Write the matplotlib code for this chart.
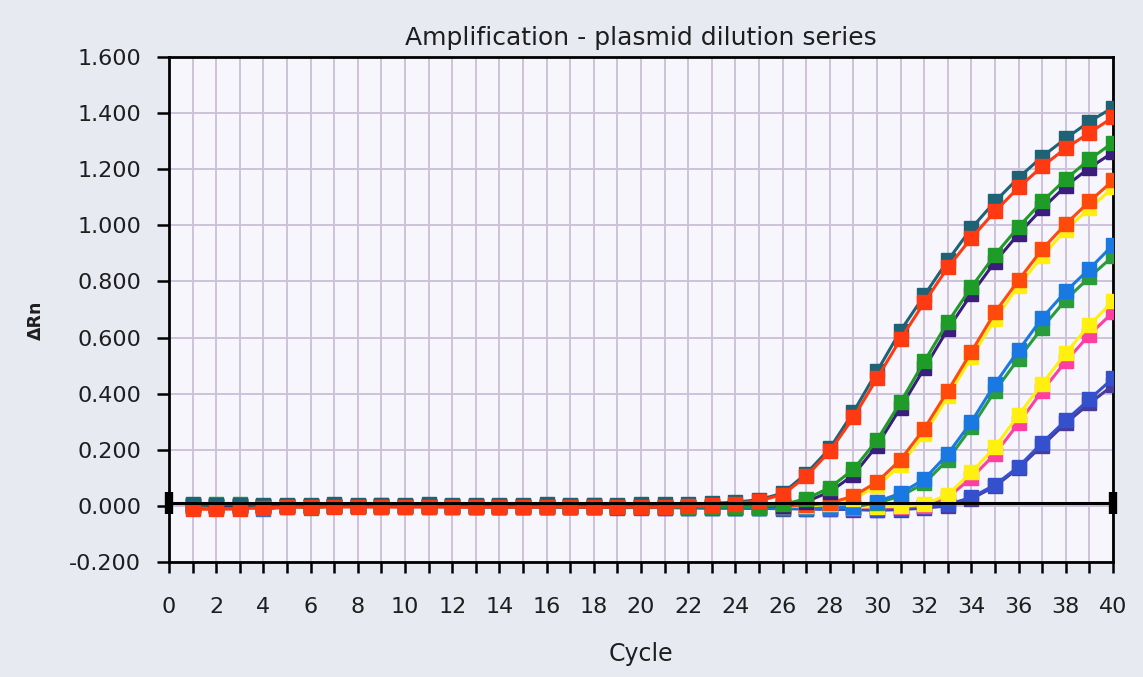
import matplotlib
matplotlib.use('Agg')
import matplotlib.pyplot as plt
from matplotlib.ticker import MultipleLocator, FormatStrFormatter

# cycles and delta Rn readings
cycles = list(range(1, 41))

teal = [0.005, 0.004, 0.003, 0.002, 0.004, 0.003, 0.005, 0.004, 0.003, 0.004,
        0.005, 0.003, 0.004, 0.004, 0.003, 0.005, 0.004, 0.003, 0.004, 0.005,
        0.006, 0.007, 0.009, 0.013, 0.022, 0.045, 0.115, 0.205, 0.335, 0.480,
        0.625, 0.750, 0.875, 0.990, 1.085, 1.170, 1.245, 1.310, 1.370, 1.420]
red = [-0.012, -0.012, -0.011, -0.006, -0.005, -0.004, -0.004, -0.004, -0.004, -0.004,
       -0.004, -0.004, -0.005, -0.004, -0.005, -0.004, -0.004, -0.005, -0.004, -0.004,
       -0.004, -0.002, 0.002, 0.008, 0.018, 0.040, 0.105, 0.195, 0.315, 0.455,
       0.595, 0.725, 0.850, 0.955, 1.050, 1.135, 1.210, 1.275, 1.330, 1.385]
green = [0.002, 0.005, 0.006, 0.001, 0.000, -0.008, 0.000, 0.001, 0.002, 0.001,
         0.000, 0.001, 0.000, -0.001, 0.000, -0.002, -0.003, -0.002, -0.004, -0.003,
         -0.004, -0.003, -0.004, -0.004, -0.003, 0.005, 0.025, 0.065, 0.130, 0.235,
         0.370, 0.515, 0.655, 0.780, 0.895, 0.995, 1.085, 1.165, 1.235, 1.295]
purple = [0.004, 0.001, 0.000, -0.002, -0.001, -0.002, -0.001, 0.000, 0.000, 0.001,
          0.000, -0.001, -0.001, -0.002, -0.001, -0.002, -0.002, -0.002, -0.003, -0.002,
          -0.003, -0.003, -0.003, -0.003, -0.002, 0.000, 0.015, 0.050, 0.110, 0.215,
          0.350, 0.490, 0.630, 0.755, 0.870, 0.970, 1.060, 1.140, 1.205, 1.260]
orange = [-0.008, -0.007, -0.006, -0.003, -0.002, -0.002, -0.001, -0.001, -0.001, -0.001,
          -0.001, -0.002, -0.002, -0.002, -0.002, -0.002, -0.002, -0.003, -0.003, -0.003,
          -0.003, -0.003, -0.002, -0.002, -0.002, -0.001, 0.002, 0.010, 0.035, 0.085,
          0.165, 0.275, 0.410, 0.550, 0.690, 0.805, 0.915, 1.005, 1.085, 1.160]
yellow = [0.001, 0.001, 0.000, 0.000, 0.000, 0.000, 0.000, 0.001, 0.000, 0.000,
          0.000, 0.000, 0.000, 0.000, 0.000, 0.001, 0.002, 0.002, 0.001, 0.001,
          0.001, 0.000, 0.000, -0.001, -0.002, -0.002, -0.001, 0.005, 0.025, 0.070,
          0.145, 0.255, 0.390, 0.530, 0.665, 0.785, 0.890, 0.985, 1.060, 1.135]
blue = [0.003, 0.001, 0.000, -0.012, -0.004, -0.003, -0.002, -0.002, -0.001, -0.001,
        -0.002, -0.002, -0.003, -0.003, -0.003, -0.003, -0.004, -0.004, -0.005, -0.005,
        -0.005, -0.006, -0.006, -0.006, -0.007, -0.008, -0.008, -0.007, -0.005, 0.015,
        0.045, 0.095, 0.185, 0.300, 0.435, 0.555, 0.670, 0.765, 0.845, 0.930]
green2 = [0.000, 0.000, 0.001, 0.000, -0.001, -0.002, -0.001, -0.001, -0.001, -0.002,
          -0.002, -0.002, -0.002, -0.003, -0.003, -0.003, -0.004, -0.004, -0.004, -0.004,
          -0.005, -0.005, -0.005, -0.006, -0.006, -0.006, -0.006, -0.005, -0.003, 0.010,
          0.035, 0.080, 0.165, 0.280, 0.410, 0.525, 0.635, 0.735, 0.815, 0.890]
yellow2 = [0.000, 0.001, 0.001, 0.000, 0.000, 0.000, 0.001, 0.001, 0.000, 0.000,
           0.000, 0.000, 0.001, 0.001, 0.000, 0.000, 0.001, 0.001, 0.001, 0.002,
           0.002, 0.001, 0.000, -0.001, -0.002, -0.003, -0.004, -0.004, -0.004, -0.003,
           -0.002, 0.005, 0.040, 0.120, 0.210, 0.325, 0.435, 0.545, 0.645, 0.730]
pink = [-0.002, -0.001, -0.001, -0.001, 0.000, 0.000, 0.000, 0.000, 0.000, 0.000,
        0.000, 0.000, 0.000, -0.002, -0.001, 0.000, 0.000, 0.003, 0.001, 0.000,
        0.000, -0.001, -0.002, -0.003, -0.004, -0.005, -0.005, -0.006, -0.006, -0.005,
        -0.004, -0.001, 0.030, 0.100, 0.185, 0.295, 0.410, 0.515, 0.610, 0.690]
blue3 = [0.001, 0.000, 0.000, -0.001, -0.001, -0.001, -0.001, -0.002, -0.002, -0.002,
         -0.002, -0.003, -0.003, -0.003, -0.003, -0.004, -0.004, -0.005, -0.005, -0.005,
         -0.006, -0.006, -0.007, -0.007, -0.008, -0.009, -0.010, -0.011, -0.012, -0.013,
         -0.010, -0.005, 0.005, 0.030, 0.075, 0.140, 0.225, 0.305, 0.380, 0.455]
purple2 = [0.000, 0.000, -0.001, -0.001, -0.002, -0.002, -0.002, -0.002, -0.003, -0.003,
           -0.003, -0.003, -0.004, -0.004, -0.004, -0.005, -0.005, -0.005, -0.006, -0.006,
           -0.006, -0.007, -0.008, -0.008, -0.009, -0.010, -0.011, -0.012, -0.013, -0.016,
           -0.013, -0.008, 0.000, 0.025, 0.070, 0.135, 0.215, 0.295, 0.365, 0.430]

threshold = 0.010

# drawing order: latest dilutions first, hidden member of each pair first
series = [
    (purple2, '#4a3a9c'), (blue3, '#3450cc'),
    (pink, '#ff3ea2'), (yellow2, '#fff010'),
    (green2, '#2a9c3c'), (blue, '#1a78e2'),
    (yellow, '#ffee10'), (orange, '#ff4a0c'),
    (purple, '#3b1d7c'), (green, '#1f9c28'),
    (teal, '#1d6275'), (red, '#ff3a12'),
]

fig = plt.figure(figsize=(11.43, 6.77), dpi=100)
fig.patch.set_facecolor('#e8eaf2')
ax = fig.add_axes([0.1479, 0.1699, 0.8259, 0.7459])
ax.set_facecolor('#f6f6fc')

for vals, col in series:
    ax.plot(cycles, vals, color=col, lw=2.2, marker='s', ms=9.5,
            mec=col, mfc=col, zorder=3)

ax.plot([0, 40], [threshold, threshold], color='black', lw=2.2, zorder=4)
ax.plot([0, 40], [threshold, threshold], ls='none', marker='|', ms=16,
        mew=6, color='black', zorder=5, clip_on=False)

ax.set_xlim(0, 40)
ax.set_ylim(-0.2, 1.6)
ax.xaxis.set_major_locator(MultipleLocator(2))
ax.xaxis.set_minor_locator(MultipleLocator(1))
ax.yaxis.set_major_locator(MultipleLocator(0.2))
ax.yaxis.set_major_formatter(FormatStrFormatter('%.3f'))

ax.grid(which='both', axis='x', color='#cdc2da', lw=1.4, zorder=0)
ax.grid(which='major', axis='y', color='#cdc2da', lw=1.4, zorder=0)
ax.set_axisbelow(True)

for s in ax.spines.values():
    s.set_color('black')
    s.set_linewidth(2)

ax.tick_params(axis='x', which='both', direction='out', length=8, width=1.8,
               pad=17, labelsize=16, labelcolor='#1e1e1e')
ax.tick_params(axis='y', which='major', direction='out', length=9, width=1.8,
               pad=11, labelsize=16, labelcolor='#1e1e1e')

ax.set_title('Amplification - plasmid dilution series', fontsize=18,
             color='#1e1e1e', pad=9)
ax.set_xlabel('Cycle', fontsize=17, color='#1e1e1e', labelpad=18)
fig.text(0.031, 0.527, 'ΔRn', rotation=90, fontsize=12.5, fontweight='bold',
         color='#1e1e1e', ha='center', va='center')

fig.savefig('out.png', dpi=100, facecolor=fig.get_facecolor())
